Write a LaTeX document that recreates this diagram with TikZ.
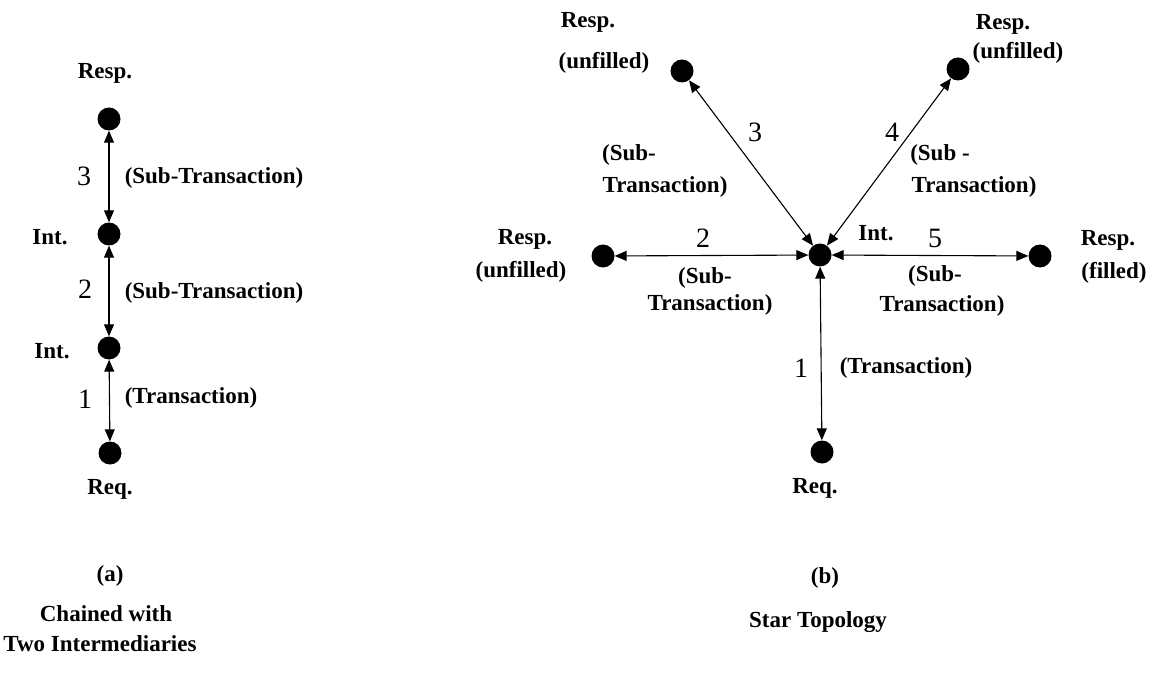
\documentclass[tikz,border=0pt]{standalone}
\usepackage{fontspec}
\setmainfont{Liberation Serif}
\usetikzlibrary{arrows.meta}
\begin{document}
\begin{tikzpicture}[x=1pt,y=-1pt,
  dot/.style={circle,fill=black,inner sep=0pt,minimum size=23pt},
  lbl/.style={font=\fontsize{23}{26}\selectfont\bfseries,inner sep=0pt},
  num/.style={font=\fontsize{28}{30}\selectfont,inner sep=0pt},
  link/.style={line width=1.1pt,{Triangle[length=12pt,width=10pt]}-{Triangle[length=12pt,width=10pt]}}]
\useasboundingbox (0,0) rectangle (1161,676);
% (a)
\node[dot] (aR) at (109,119) {};
\node[dot] (aI2) at (109,234) {};
\node[dot] (aI1) at (109,348) {};
\node[dot] (aQ) at (110,453) {};
\draw[link] (aI2) -- (aR);
\draw[link] (aI1) -- (aI2);
\draw[link] (aQ) -- (aI1);
\node[lbl] (taR) at (105,73) {Resp.};
\node[lbl] (taI2) at (50,237) {Int.};
\node[lbl] (taI1) at (52,351) {Int.};
\node[lbl] (taQ) at (110,489) {Req.};
\node[num] (n3a) at (84,176) {3};
\node[num] (n2a) at (85,289) {2};
\node[num] (n1a) at (85,399) {1};
\node[lbl] (s3a) at (214,178) {(Sub-Transaction)};
\node[lbl] (s2a) at (214,293) {(Sub-Transaction)};
\node[lbl] (s1a) at (191,398) {(Transaction)};
\node[lbl] (capa) at (110,576) {(a)};
\node[lbl] (ca1) at (106,614) {Chained with};
\node[lbl] (ca2) at (100,644) {Two Intermediaries};
% (b)
\node[dot] (C) at (820,255) {};
\node[dot] (L) at (603,256) {};
\node[dot] (Rt) at (1040,256) {};
\node[dot] (UL) at (682,71) {};
\node[dot] (UR) at (958,69) {};
\node[dot] (Q) at (822,452) {};
\draw[link] (C) -- (UL);
\draw[link] (C) -- (UR);
\draw[link] (C) -- (L);
\draw[link] (C) -- (Rt);
\draw[link] (C) -- (Q);
\node[lbl] (tUL1) at (588,22) {Resp.};
\node[lbl] (tUL2) at (604,63) {(unfilled)};
\node[lbl] (tUR1) at (1003,24) {Resp.};
\node[lbl] (tUR2) at (1018,53) {(unfilled)};
\node[lbl] (tL1) at (525,239) {Resp.};
\node[lbl] (tL2) at (521,272) {(unfilled)};
\node[lbl] (tR1) at (1108,240) {Resp.};
\node[lbl] (tR2) at (1114,273) {(filled)};
\node[lbl] (tC) at (876,233) {Int.};
\node[lbl] (tQ) at (815,488) {Req.};
\node[num] (n3b) at (755,132) {3};
\node[num] (n4b) at (892,132) {4};
\node[num] (n2b) at (703,238) {2};
\node[num] (n5b) at (935,238) {5};
\node[num] (n1b) at (801,368) {1};
\node[lbl] (s3b1) at (629,155) {(Sub-};
\node[lbl] (s3b2) at (665,187) {Transaction)};
\node[lbl] (s4b1) at (940,155) {(Sub -};
\node[lbl] (s4b2) at (974,187) {Transaction)};
\node[lbl] (s2b1) at (705,278) {(Sub-};
\node[lbl] (s2b2) at (710,305) {Transaction)};
\node[lbl] (s5b1) at (935,276) {(Sub-};
\node[lbl] (s5b2) at (942,306) {Transaction)};
\node[lbl] (s1b) at (906,368) {(Transaction)};
\node[lbl] (capb) at (825,578) {(b)};
\node[lbl] (cb) at (818,622) {Star Topology};
\end{tikzpicture}
\end{document}
